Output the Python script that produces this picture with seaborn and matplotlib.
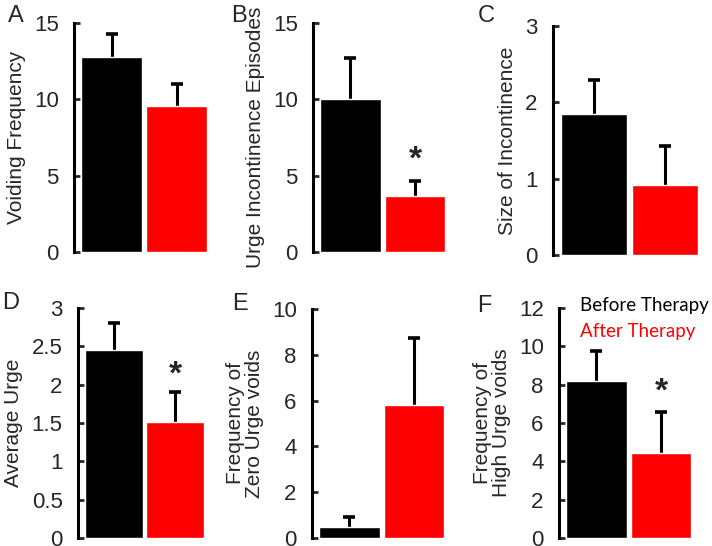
import pandas as pd
import matplotlib.pyplot as plt
import seaborn as sns

# Data (mean, upper SEM)
groups = ["Before Therapy", "After Therapy"]
bar_colors = ["#000000", "#ff0000"]

voiding_freq = [12.75, 9.55]
voiding_err = [1.5, 1.45]

urge_incont = [10.0, 3.67]
urge_incont_err = [2.7, 1.0]

size_incont = [1.85, 0.92]
size_incont_err = [0.44, 0.51]

avg_urge = [2.45, 1.51]
avg_urge_err = [0.35, 0.39]

zero_urge = [0.48, 5.8]
zero_urge_err = [0.44, 2.93]

high_urge = [8.2, 4.43]
high_urge_err = [1.57, 2.14]

panels = [
    # letter, values, errs, ylabel, ymax, yticks, ticklabels, significant star y
    ("A", voiding_freq, voiding_err, "Voiding Frequency", 15, [0, 5, 10, 15], None, None),
    ("B", urge_incont, urge_incont_err, "Urge Incontinence Episodes", 15, [0, 5, 10, 15], None, 6.0),
    ("C", size_incont, size_incont_err, "Size of Incontinence", 3, [0, 1, 2, 3], None, None),
    ("D", avg_urge, avg_urge_err, "Average Urge", 3, [0, 0.5, 1, 1.5, 2, 2.5, 3],
     ["0", "0.5", "1", "1.5", "2", "2.5", "3"], 2.13),
    ("E", zero_urge, zero_urge_err, "Frequency of\nZero Urge voids", 10, [0, 2, 4, 6, 8, 10], None, None),
    ("F", high_urge, high_urge_err, "Frequency of\nHigh Urge voids", 12, [0, 2, 4, 6, 8, 10, 12], None, 7.6),
]

W, H = 712, 546
# axes rectangles in pixels: left spine x, top y, right x, bottom y
rects = [
    (74, 23, 208, 252),
    (313, 23, 446, 252),
    (553, 26, 699, 255),
    (78, 308, 205, 538),
    (312, 309, 445, 538),
    (559, 308, 692, 538),
]
letter_pos = [(8, 16), (231, 16), (478, 16), (2, 303), (232, 304), (477, 306)]

sns.set_style("white")
plt.rcParams["font.family"] = ["Liberation Sans", "DejaVu Sans"]

fig = plt.figure(figsize=(W / 100, H / 100), dpi=100)

for (letter, vals, errs, ylab, ymax, yticks, tlabels, star), (l, t, r, b), (lx, ly) in zip(panels, rects, letter_pos):
    ax = fig.add_axes([l / W, 1 - b / H, (r - l) / W, (b - t) / H])
    df = pd.DataFrame({"group": groups, "value": vals})
    sns.barplot(data=df, x="group", y="value", hue="group", palette=bar_colors,
                width=0.94, errorbar=None, legend=False, ax=ax, saturation=1)
    tops = [v + e for v, e in zip(vals, errs)]
    # upper-only error bars: stem + cap
    ax.vlines([0, 1], vals, tops, color="black", linewidth=2.2, zorder=0.5)
    ax.plot([0, 1], tops, ls="none", marker="_", markersize=8, mew=2.6, color="black")
    ax.set_xlim(-0.58, 1.48)
    ax.set_ylim(0, ymax)
    ax.set_yticks(yticks)
    if tlabels:
        ax.set_yticklabels(tlabels)
    ax.set_xticks([])
    ax.set_xlabel("")
    ax.set_ylabel(ylab, fontsize=15, linespacing=0.95, labelpad=6)
    for s in ["top", "right", "bottom"]:
        ax.spines[s].set_visible(False)
    ax.spines["left"].set_linewidth(2.2)
    ax.spines["left"].set_color("black")
    ax.tick_params(axis="y", direction="in", length=4, width=2, labelsize=16, pad=11, left=True)
    ax.patch.set_alpha(0)
    if star is not None:
        ax.text(1, star, "*", ha="center", va="center", fontsize=24, fontweight="bold")
    fig.text(lx / W, 1 - ly / H, letter, fontsize=17, ha="left", va="center")

fig.text(580 / W, 1 - 305 / H, "Before Therapy", fontsize=13.5, color="black",
         family=["Lato", "DejaVu Sans"], va="center")
fig.text(580 / W, 1 - 332 / H, "After Therapy", fontsize=13.5, color="#ff0000",
         family=["Lato", "DejaVu Sans"], va="center")

fig.savefig("out.png", dpi=100)
